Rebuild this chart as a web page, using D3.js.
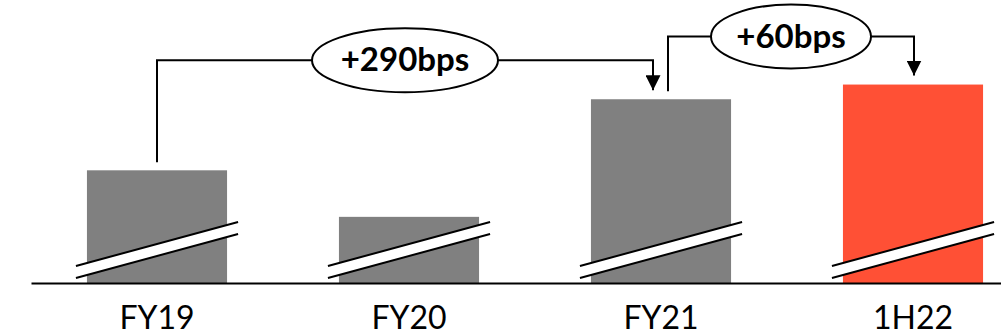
<!DOCTYPE html>
<html>
<head>
<meta charset="utf-8">
<script src="https://cdn.jsdelivr.net/npm/d3@7"></script>
<style>
  body { margin: 0; background: #fff; }
  svg { display: block; }
</style>
</head>
<body>
<div id="container"></div>
<script>
// DATA ###################################
const categories = ["FY19", "FY20", "FY21", "1H22"];
const margins = [14.6, 12.7, 17.5, 18.1]; // % (axis broken, base hidden)
const barColors = ["#808080", "#808080", "#808080", "#FF5035"];
const changeLabels = ["+290bps", "+60bps"];
const changeFrom = ["FY19", "FY21"];
const changeTo = ["FY21", "1H22"];

// CONSTANTS ##############################
const width = 1001,
  height = 336,
  baseY = 283;

const xScale = d3.scaleBand()
  .domain(categories)
  .range([31, 1039])
  .paddingInner(0.444)
  .paddingOuter(0.222);

const yScale = d3.scaleLinear()
  .domain([10, 20])
  .range([baseY, baseY - 245]);

// annotation layout: rise above target bar, x nudges at each end
const annos = changeLabels.map((label, i) => ({
  label,
  from: changeFrom[i],
  to: changeTo[i],
  rise: [39, 48][i],
  dxFrom: [0, 7][i],
  dxTo: [-8, 1][i],
  rx: [93, 80][i]
}));

const svg = d3.select("#container")
  .append("svg")
  .attr("width", width)
  .attr("height", height);

// BARS
const data = categories.map((c, i) => ({ cat: c, value: margins[i], color: barColors[i] }));

svg.selectAll("rect.bar")
  .data(data)
  .join("rect")
  .attr("class", "bar")
  .attr("x", d => xScale(d.cat))
  .attr("y", d => yScale(d.value))
  .attr("width", xScale.bandwidth())
  .attr("height", d => baseY - yScale(d.value))
  .attr("fill", d => d.color);

// AXIS BREAK MARKS
const brk = svg.selectAll("g.brk")
  .data(data)
  .join("g")
  .attr("class", "brk");

brk.append("path")
  .attr("fill", "#fff")
  .attr("d", d => {
    const x0 = xScale(d.cat) - 11, x1 = xScale(d.cat) + xScale.bandwidth() + 11;
    return `M${x0},${baseY - 17}L${x1},${baseY - 61}L${x1},${baseY - 49}L${x0},${baseY - 5}Z`;
  });

[[17, 61], [5, 49]].forEach(([l, r]) => {
  brk.append("line")
    .attr("x1", d => xScale(d.cat) - 11)
    .attr("x2", d => xScale(d.cat) + xScale.bandwidth() + 11)
    .attr("y1", baseY - l)
    .attr("y2", baseY - r)
    .attr("stroke", "#000")
    .attr("stroke-width", 2);
});

// X AXIS
const xAxis = svg.append("g")
  .attr("transform", `translate(0,${baseY})`)
  .call(d3.axisBottom(xScale).tickSize(0).tickSizeOuter(0));

xAxis.select(".domain")
  .attr("stroke", "#000")
  .attr("stroke-width", 2);

xAxis.selectAll("text")
  .attr("y", 46)
  .attr("dy", null)
  .attr("fill", "#000")
  .style("font-family", "Lato, 'Open Sans', sans-serif")
  .style("font-size", "32px");

// CHANGE ANNOTATIONS
svg.append("defs").append("marker")
  .attr("id", "arrow")
  .attr("viewBox", "0 0 10 10")
  .attr("refX", 10)
  .attr("refY", 5)
  .attr("markerUnits", "userSpaceOnUse")
  .attr("markerWidth", 15)
  .attr("markerHeight", 15)
  .attr("orient", "auto")
  .append("path")
  .attr("d", "M0,0L10,5L0,10Z")
  .attr("fill", "#000");

const mid = c => xScale(c) + xScale.bandwidth() / 2;
const valOf = c => margins[categories.indexOf(c)];

annos.forEach(a => {
  const xa = mid(a.from) + a.dxFrom,
    xb = mid(a.to) + a.dxTo,
    ya = yScale(valOf(a.from)) - 8,
    yb = yScale(valOf(a.to)) - 9,
    yTop = yScale(valOf(a.to)) - a.rise;

  svg.append("path")
    .attr("d", `M${xa},${ya}V${yTop}H${xb}V${yb}`)
    .attr("fill", "none")
    .attr("stroke", "#000")
    .attr("stroke-width", 2)
    .attr("marker-end", "url(#arrow)");

  const cx = (xa + xb) / 2;
  svg.append("ellipse")
    .attr("cx", cx)
    .attr("cy", yTop)
    .attr("rx", a.rx)
    .attr("ry", 32)
    .attr("fill", "#fff")
    .attr("stroke", "#000")
    .attr("stroke-width", 2);

  svg.append("text")
    .attr("x", cx)
    .attr("y", yTop + 11)
    .attr("text-anchor", "middle")
    .style("font-family", "Lato, 'Open Sans', sans-serif")
    .style("font-weight", "bold")
    .style("font-size", "33px")
    .text(a.label);
});
</script>
</body>
</html>
